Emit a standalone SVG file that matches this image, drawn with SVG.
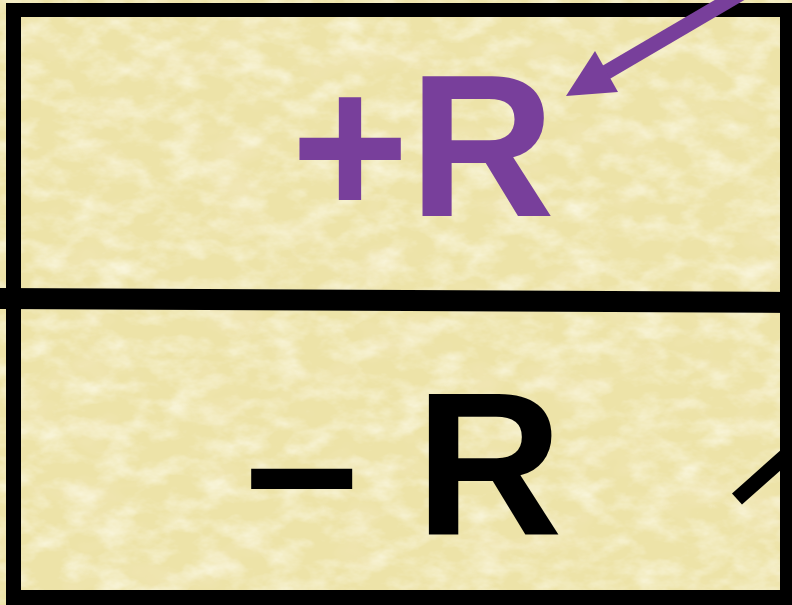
<svg xmlns="http://www.w3.org/2000/svg" width="792" height="605" viewBox="0 0 792 605">
  <style>
    .frame { fill: #000000; }
    .label { font-family: "Liberation Sans", Arial, sans-serif; font-weight: bold; }
    .plus { fill: #783F9B; }
    .minus { fill: #000000; }
  </style>
  <defs>
    <filter id="light" x="0" y="0" width="792" height="605" filterUnits="userSpaceOnUse">
      <feTurbulence type="fractalNoise" baseFrequency="0.03 0.05" numOctaves="4" seed="7"/>
      <feColorMatrix type="matrix" values="0 0 0 0 0.97  0 0 0 0 0.95  0 0 0 0 0.80  1.6 0 0 0 -0.65"/>
    </filter>
    <filter id="dark" x="0" y="0" width="792" height="605" filterUnits="userSpaceOnUse">
      <feTurbulence type="fractalNoise" baseFrequency="0.015 0.025" numOctaves="3" seed="19"/>
      <feColorMatrix type="matrix" values="0 0 0 0 0.91  0 0 0 0 0.82  0 0 0 0 0.55  0 1.4 0 0 -0.75"/>
    </filter>
  </defs>

  <g id="background">
    <rect x="0" y="0" width="792" height="605" fill="#EDE3A8"/>
    <rect x="0" y="0" width="792" height="605" filter="url(#dark)"/>
    <rect x="0" y="0" width="792" height="605" filter="url(#light)"/>
  </g>

  <g id="frame">
    <rect class="frame" x="6" y="3" width="786" height="14"/>
    <rect class="frame" x="6" y="3" width="15" height="602"/>
    <rect class="frame" x="780" y="3" width="12" height="602"/>
    <rect class="frame" x="6" y="590" width="786" height="15"/>
  </g>

  <g id="top-box">
    <text class="label plus" x="291" y="216" font-size="202">+R</text>
  </g>

  <g id="divider">
    <polygon class="frame" points="0,288 792,292 792,313 0,309"/>
  </g>

  <g id="bottom-box">
    <text class="label minus" x="245" y="534" font-size="204">– R</text>
  </g>

  <g id="connectors">
    <line x1="762" y1="-19" x2="605" y2="73" stroke="#783F9B" stroke-width="15"/>
    <polygon points="566,96 595,51 618,92" fill="#783F9B"/>
    <line x1="737" y1="499" x2="800" y2="443" stroke="#000000" stroke-width="15"/>
  </g>
</svg>
